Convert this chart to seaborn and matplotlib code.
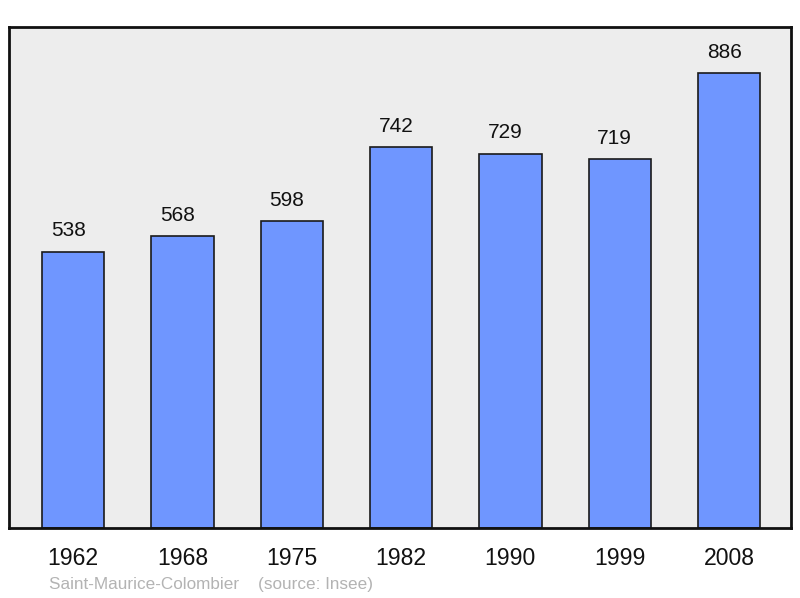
import matplotlib
matplotlib.use("Agg")
import matplotlib.pyplot as plt
import seaborn as sns
import pandas as pd

years = ["1962", "1968", "1975", "1982", "1990", "1999", "2008"]
population = [538, 568, 598, 742, 729, 719, 886]
title_text = "Saint-Maurice-Colombier    (source: Insee)"

sns.set_theme(style="white")
plt.rcParams['font.family'] = ['Liberation Sans', 'DejaVu Sans']

df = pd.DataFrame({"year": years, "pop": population})

fig = plt.figure(figsize=(8.0, 5.98), dpi=100)
ax = fig.add_axes([9/800, 1 - 528/598, (791-9)/800, (528-27)/598])
ax.set_facecolor("#ededed")

sns.barplot(data=df, x="year", y="pop", color="#6f96ff", saturation=1,
            width=0.57, edgecolor="#1a1a1a", linewidth=1.2, ax=ax)

for i, v in enumerate(population):
    ax.text(i - 0.045, v + 30, str(v), ha="center", va="baseline",
            fontsize=15, color="#111111")

ax.set_xlim(-0.586, 6.567)
ax.set_ylim(0, 976)
ax.set_yticks([])
ax.set_xlabel("")
ax.set_ylabel("")
ax.tick_params(axis="x", length=0, labelsize=16.6, pad=14, colors="#111111")
for s in ax.spines.values():
    s.set_visible(True)
    s.set_color("#111111")
    s.set_linewidth(2)

fig.text(49/800, 1 - 585/598, title_text, fontsize=12.3, color="#b3b3b3",
         ha="left", va="center")

fig.savefig("out.png", dpi=100)
